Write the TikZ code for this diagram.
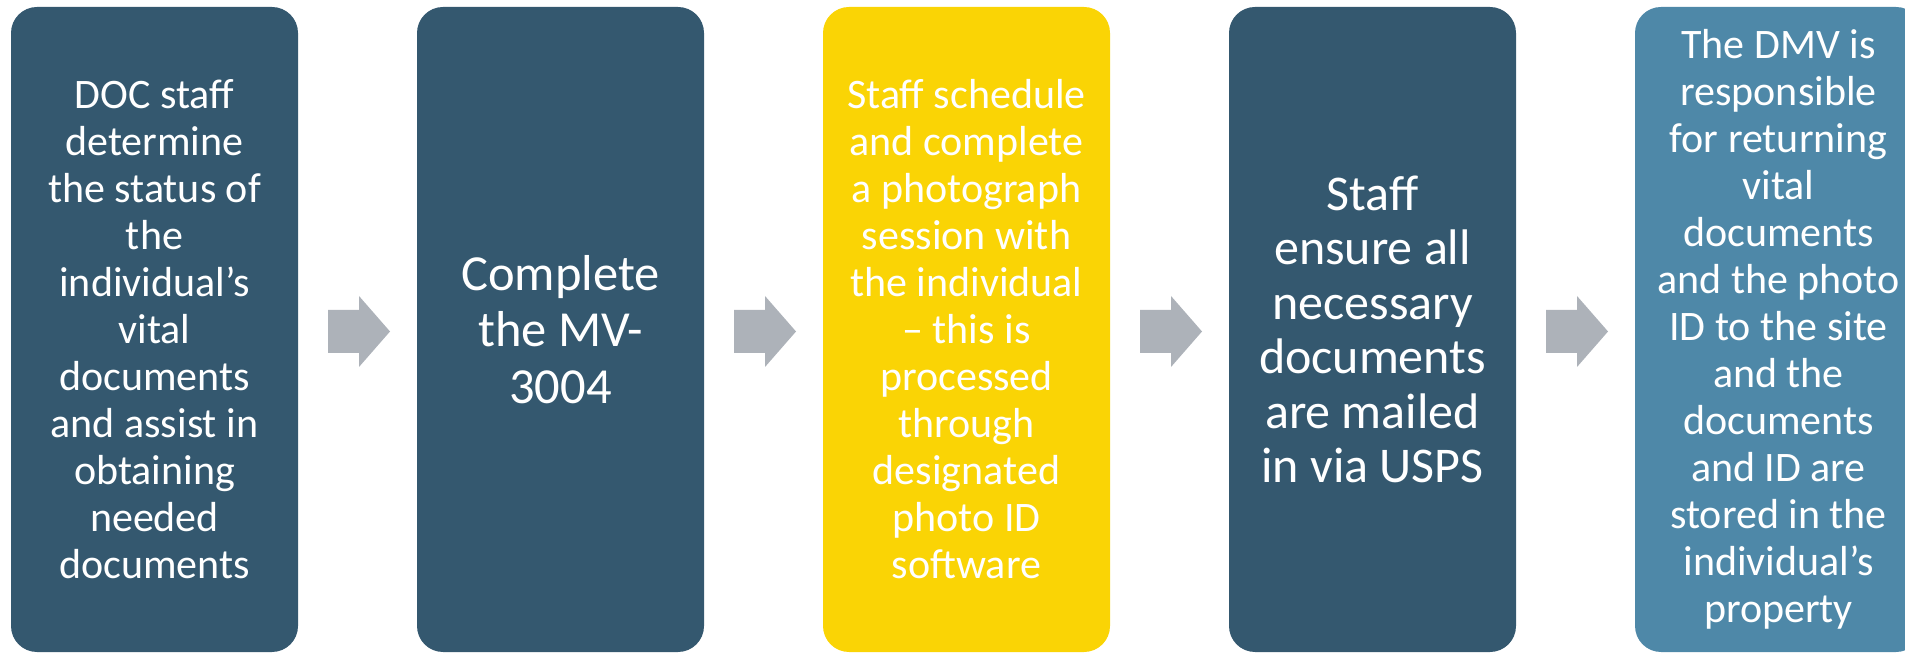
\documentclass[tikz,border=0pt]{standalone}
\usepackage{fontspec}
\setmainfont{Carlito}
\usetikzlibrary{positioning,calc}

\definecolor{slate}{RGB}{52,88,111}
\definecolor{gold}{RGB}{250,212,5}
\definecolor{steel}{RGB}{78,136,168}
\definecolor{arrowgray}{RGB}{173,178,185}

\begin{document}
\begin{tikzpicture}
            \tikzstyle{stepbox} = [rectangle, rounded corners=26pt, minimum width=287pt, minimum height=645pt, inner sep=0pt, text=white, align=center, node distance=406pt]
            \tikzstyle{small} = [font=\fontsize{42}{47}\selectfont]
            \tikzstyle{blockarrow} = [fill=arrowgray]

            \useasboundingbox (0,0) rectangle (1905pt,653pt);

            \node (determine) [stepbox, small, fill=slate] at (154.5pt,323.5pt) {DOC staff\\determine\\the status of\\the\\individual’s\\vital\\documents\\and assist in\\obtaining\\needed\\documents};
            \node (mvform) [stepbox, fill=slate, right of=determine, font=\fontsize{50.5}{56.5}\selectfont] {Complete\\the MV-\\3004};
            \node (photo) [stepbox, small, fill=gold, right of=mvform] {Staff schedule\\and complete\\a photograph\\session with\\the individual\\– this is\\processed\\through\\designated\\photo ID\\software};
            \node (mail) [stepbox, fill=slate, right of=photo, font=\fontsize{50}{54.5}\selectfont] {Staff\\ensure all\\necessary\\documents\\are mailed\\in via USPS};
            \node (dmv) [stepbox, small, fill=steel, right of=mail] {The DMV is\\responsible\\for returning\\vital\\documents\\and the photo\\ID to the site\\and the\\documents\\and ID are\\stored in the\\individual’s\\property};

            \foreach \a/\b in {determine/mvform, mvform/photo, photo/mail, mail/dmv}
                \fill[blockarrow] ($(\a.east)!0.5!(\b.west)$) ++(-29.5pt,-23.5pt) -- ++(31pt,0) -- ++(0,-14pt) -- ++(31pt,35.5pt) -- ++(-31pt,35.5pt) -- ++(0,-14pt) -- ++(-31pt,0) -- cycle;
\end{tikzpicture}
\end{document}
